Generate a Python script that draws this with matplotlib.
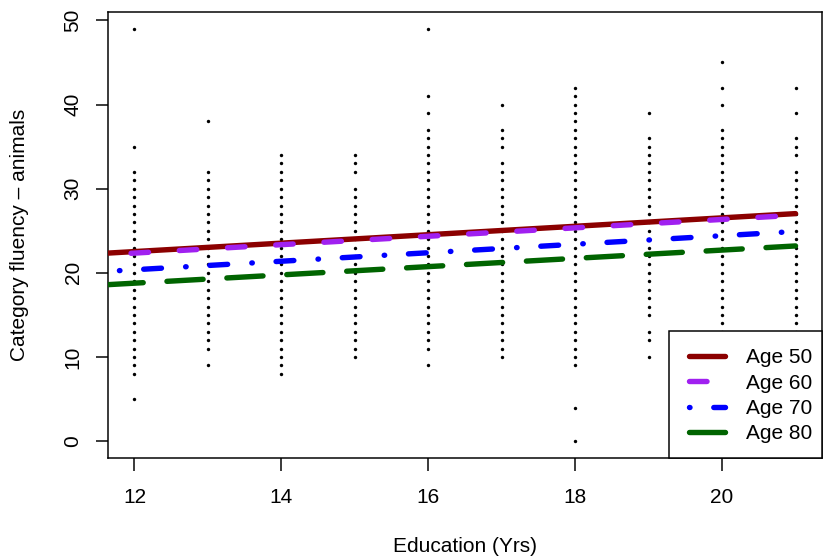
import matplotlib
matplotlib.use('Agg')
import matplotlib.pyplot as plt
from matplotlib.lines import Line2D
from matplotlib.patches import Rectangle

plt.rcParams['font.family'] = ['Liberation Sans', 'DejaVu Sans']
plt.rcParams['lines.scale_dashes'] = False

# ---------------- data ----------------
edu12 = [49, 35, 32, 31, 30, 29, 28, 27, 26, 25, 24, 23, 22, 21, 20, 19, 18, 17, 16, 15, 14, 13, 12, 11, 10, 9, 8, 5]
edu13 = [38, 32, 31, 30, 29, 28, 27, 26, 25, 24, 23, 22, 21, 20, 19, 18, 17, 16, 15, 14, 13, 12, 11, 9]
edu14 = [34, 33, 32, 31, 30, 29, 28, 27, 26, 25, 24, 23, 22, 21, 20, 19, 18, 17, 16, 15, 14, 13, 12, 11, 10, 9, 8]
edu15 = [34, 33, 32, 30, 29, 28, 27, 26, 25, 24, 23, 22, 21, 20, 19, 18, 17, 16, 15, 14, 13, 12, 11, 10]
edu16 = [49, 41, 39, 37, 36, 35, 34, 33, 32, 31, 30, 29, 28, 27, 26, 25, 24, 23, 22, 21, 20, 19, 18, 17, 16, 15, 14, 13, 12, 11, 9]
edu17 = [40, 37, 36, 35, 33, 32, 31, 30, 29, 28, 27, 26, 25, 24, 23, 22, 21, 20, 19, 18, 17, 16, 15, 14, 13, 12, 11, 10]
edu18 = [42, 41, 40, 39, 38, 37, 36, 35, 34, 33, 32, 31, 30, 29, 28, 27, 26, 25, 24, 23, 22, 21, 20, 19, 18, 17, 16, 15, 14, 13, 12, 11, 10, 9, 4, 0]
edu19 = [39, 36, 35, 34, 33, 32, 31, 30, 29, 28, 27, 26, 25, 24, 23, 22, 21, 20, 19, 18, 17, 16, 15, 13, 12, 10]
edu20 = [45, 42, 40, 37, 36, 35, 34, 33, 32, 31, 30, 29, 28, 27, 26, 25, 24, 23, 22, 21, 20, 19, 18, 17, 16, 15, 14, 13, 12, 11, 10, 9, 8]
edu21 = [42, 39, 36, 35, 34, 32, 31, 30, 29, 28, 27, 26, 25, 24, 23, 22, 21, 20, 19, 18, 17, 16, 15, 14, 13]

education_levels = [12, 13, 14, 15, 16, 17, 18, 19, 20, 21]
fluency_columns = [edu12, edu13, edu14, edu15, edu16, edu17, edu18, edu19, edu20, edu21]

# fitted lines (values at the two ends of the education range)
fit_edu = [11.64, 21.0]
fit_age50 = [22.35, 27.04]
fit_age60 = [22.17, 26.85]
fit_age70 = [20.19, 24.92]
fit_age80 = [18.60, 23.20]
age_labels = ['Age 50', 'Age 60', 'Age 70', 'Age 80']

x_ticks = [12, 14, 16, 18, 20]
y_ticks = [0, 10, 20, 30, 40, 50]

# ---------------- style ----------------
W, H = 823, 558
PX = 0.72          # points per pixel at dpi=100
FS = 15
LW = 5.4 * PX
colors = ['#8B0000', '#A020F0', '#0000FF', '#006400']
patterns = [
    None,
    (25.2 * PX, (17.5 * PX, 30.8 * PX)),
    (54.85 * PX, (0.5 * PX, 23.8 * PX, 17.8 * PX, 24.2 * PX)),
    (0.95 * PX, (36.2 * PX, 23.8 * PX)),
]
legend_patterns = ['-',
                   (0, (17.5 * PX, 30.8 * PX)),
                   (0, (0.5 * PX, 23.8 * PX, 17.8 * PX, 24.2 * PX)),
                   (0, (36.2 * PX, 23.8 * PX))]

fig = plt.figure(figsize=(W / 100, H / 100), dpi=100)
ax_l, ax_r, ax_t, ax_b = 108, 822, 12.3, 457.7
ax = fig.add_axes([ax_l / W, 1 - ax_b / H, (ax_r - ax_l) / W, (ax_b - ax_t) / H])

xs, ys = [], []
for e, col in zip(education_levels, fluency_columns):
    xs.extend([e] * len(col))
    ys.extend(col)
ax.plot(xs, ys, linestyle='none', marker='o', markersize=3.4 * PX,
        markeredgewidth=0, color='black', zorder=2)

fits = [fit_age50, fit_age60, fit_age70, fit_age80]
for fit, c, p in zip(fits, colors, patterns):
    ls = '-' if p is None else p
    ax.plot(fit_edu, fit, color=c, linewidth=LW, linestyle=ls,
            solid_capstyle='round', dash_capstyle='round', zorder=3)

ax.set_xlim(11.64, 21.36)
ax.set_ylim(-1.96, 50.96)
ax.set_xticks(x_ticks)
ax.set_yticks(y_ticks)
ax.set_xticklabels([str(v) for v in x_ticks])
ax.set_yticklabels([str(v) for v in y_ticks])
for s in ax.spines.values():
    s.set_linewidth(1.5 * PX)
ax.tick_params(axis='both', length=12.5 * PX, width=1.5 * PX, labelsize=FS, colors='black')
ax.tick_params(axis='x', pad=17.4 * PX)
ax.tick_params(axis='y', pad=13.0 * PX, labelrotation=90)
for lbl in ax.get_yticklabels():
    lbl.set_va('center')

fig.text(465 / W, 1 - 546.7 / H, 'Education (Yrs)', ha='center', va='center', fontsize=FS)
fig.text(20 / W, 1 - 235 / H, 'Category fluency – animals', ha='center', va='center',
         rotation=90, fontsize=FS)

# legend frame
lx0 = 669
ax.add_patch(Rectangle(((lx0 - ax_l) / (ax_r - ax_l), 0), (ax_r - lx0) / (ax_r - ax_l),
                       (ax_b - 331) / (ax_b - ax_t), transform=ax.transAxes,
                       facecolor='white', edgecolor='black', linewidth=1.5 * PX,
                       zorder=4, clip_on=False))
handles = [Line2D([], [], color=c, linewidth=LW, linestyle=ls,
                  solid_capstyle='round', dash_capstyle='round')
           for c, ls in zip(colors, legend_patterns)]
fs_px = FS / PX
ax.legend(handles, age_labels, loc='center', bbox_to_anchor=(750.5 / W, 1 - 395.8 / H),
          bbox_transform=fig.transFigure, frameon=False, fontsize=FS,
          borderpad=0, borderaxespad=0, handlelength=36.5 / fs_px,
          handletextpad=20.5 / fs_px, labelspacing=0.31)

fig.savefig('out.png', dpi=100)
